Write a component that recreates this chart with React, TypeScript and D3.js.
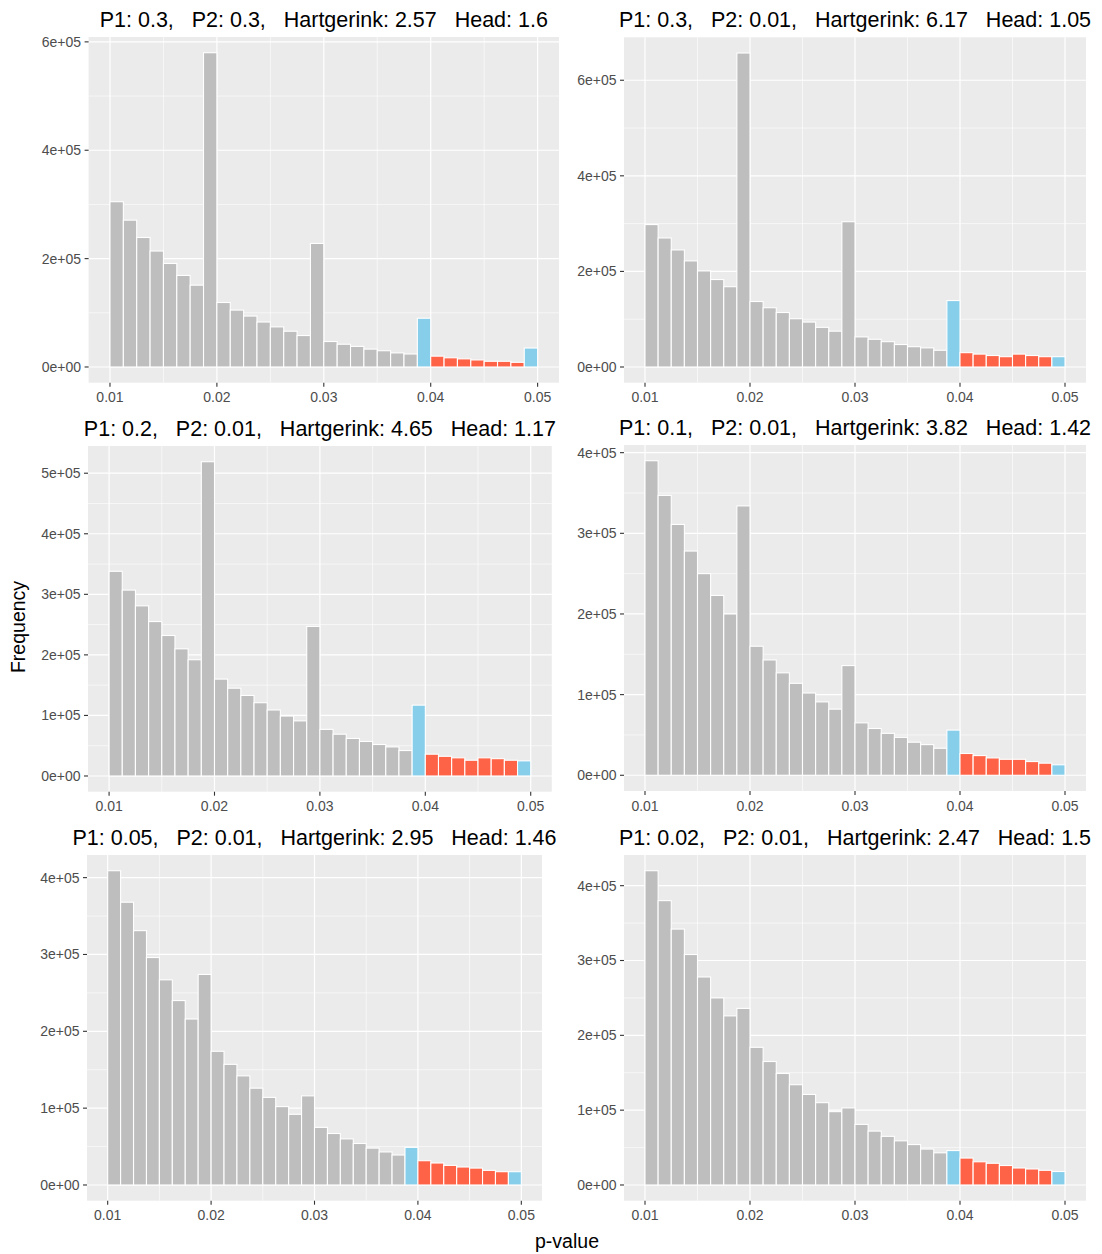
import React from 'react';
import * as d3 from 'd3';

// histogram bins: 32 bins of width 0.00125 from 0.01 to 0.05
const binStart = 0.01;
const binWidth = 0.00125;

const xTicks = [0.01, 0.02, 0.03, 0.04, 0.05];
const xMinor = [0.015, 0.025, 0.035, 0.045];

const titles = [
  'P1: 0.3,   P2: 0.3,   Hartgerink: 2.57   Head: 1.6',
  'P1: 0.3,   P2: 0.01,   Hartgerink: 6.17   Head: 1.05',
  'P1: 0.2,   P2: 0.01,   Hartgerink: 4.65   Head: 1.17',
  'P1: 0.1,   P2: 0.01,   Hartgerink: 3.82   Head: 1.42',
  'P1: 0.05,   P2: 0.01,   Hartgerink: 2.95   Head: 1.46',
  'P1: 0.02,   P2: 0.01,   Hartgerink: 2.47   Head: 1.5',
];

const counts1 = [
  305000, 271000, 239000, 214000, 191000, 169000, 151000, 580000,
  119000, 105000, 94000, 83000, 74000, 66000, 58000, 228000,
  47000, 42000, 38000, 33000, 30000, 26000, 24000, 90000,
  20000, 17000, 15000, 13000, 10500, 10500, 8600, 35000,
];
const counts2 = [
  298000, 270000, 245000, 222000, 201000, 183000, 168000, 657000,
  137000, 124000, 114000, 101000, 94000, 83000, 75000, 304000,
  63000, 58000, 53000, 47000, 42500, 40000, 35000, 139000,
  30000, 27000, 24000, 21600, 27000, 24000, 21600, 21600,
];
const counts3 = [
  338000, 307000, 281000, 255000, 232000, 210000, 192000, 519000,
  160000, 145000, 133000, 121000, 109000, 99000, 91000, 247000,
  77000, 69000, 62000, 57000, 52000, 48000, 42000, 117000,
  36000, 32500, 30000, 26000, 30000, 28600, 26000, 25000,
];
const counts4 = [
  390000, 347000, 311000, 278000, 250000, 223000, 200000, 334000,
  160000, 143000, 127000, 114000, 102000, 91000, 82000, 136000,
  65000, 58000, 52000, 47000, 41000, 38000, 33500, 56000,
  27000, 24400, 21500, 19800, 19800, 17000, 15000, 13000,
];
const counts5 = [
  409000, 368000, 331000, 296000, 267000, 240000, 216000, 274000,
  174000, 157000, 142000, 126000, 114000, 102000, 92000, 116000,
  75000, 67000, 60000, 54000, 48000, 43000, 39000, 49000,
  31600, 28600, 25500, 23400, 22000, 19000, 17300, 17300,
];
const counts6 = [
  420000, 380000, 342000, 308000, 278000, 250000, 226000, 236000,
  184000, 165000, 149000, 134000, 121000, 110000, 98000, 103000,
  81000, 72000, 65000, 59000, 54000, 48000, 43000, 46000,
  36000, 31000, 29000, 26000, 22700, 21400, 19600, 18000,
];

const yTicks1 = [0, 200000, 400000, 600000];
const yTicks2 = [0, 200000, 400000, 600000];
const yTicks3 = [0, 100000, 200000, 300000, 400000, 500000];
const yTicks4 = [0, 100000, 200000, 300000, 400000];
const yTicks5 = [0, 100000, 200000, 300000, 400000];
const yTicks6 = [0, 100000, 200000, 300000, 400000];

const allCounts = [counts1, counts2, counts3, counts4, counts5, counts6];
const allYTicks = [yTicks1, yTicks2, yTicks3, yTicks4, yTicks5, yTicks6];

// panel boxes in page pixels
const boxes = [
  { left: 88.6, right: 559, top: 37, bottom: 382.7 },
  { left: 624, right: 1086, top: 37.3, bottom: 382.7 },
  { left: 88, right: 551.8, top: 446, bottom: 791.7 },
  { left: 624, right: 1086, top: 445, bottom: 791 },
  { left: 87, right: 542, top: 855, bottom: 1200.7 },
  { left: 624, right: 1086, top: 855, bottom: 1200.7 },
];

const FONT = '"Liberation Sans", Arial, Helvetica, sans-serif';
const BG = '#EBEBEB';

const binFill = (i: number) => {
  if (i === 23 || i === 31) return '#87CEEB';
  if (i >= 24 && i <= 30) return '#FF6347';
  return '#BEBEBE';
};

const sci = (v: number) => {
  if (v === 0) return '0e+00';
  const e = Math.floor(Math.log10(v));
  const m = Math.round(v / Math.pow(10, e));
  return `${m}e+${String(e).padStart(2, '0')}`;
};

const Panel = ({ idx }: { idx: number }) => {
  const b = boxes[idx];
  const counts = allCounts[idx];
  const ticks = allYTicks[idx];
  const maxV = d3.max(counts) as number;

  const x = d3.scaleLinear().domain([0.008, 0.052]).range([b.left, b.right]);
  const y = d3.scaleLinear().domain([-0.05 * maxV, 1.05 * maxV]).range([b.bottom, b.top]);

  const step = ticks[1] - ticks[0];
  const yMinor = d3
    .range(ticks[0] - step / 2, ticks[ticks.length - 1] + step, step)
    .filter((v) => v > y.domain()[0] && v < y.domain()[1]);

  return (
    <g>
      <text
        x={(b.left + b.right) / 2}
        y={b.top - 10.5}
        textAnchor="middle"
        fontSize={21.5}
        fill="#000"
        style={{ whiteSpace: 'pre' }}
      >
        {titles[idx]}
      </text>
      <rect x={b.left} y={b.top} width={b.right - b.left} height={b.bottom - b.top} fill={BG} />
      {yMinor.map((v) => (
        <line key={'ym' + v} x1={b.left} x2={b.right} y1={y(v)} y2={y(v)} stroke="#fff" strokeWidth={0.6} />
      ))}
      {xMinor.map((v) => (
        <line key={'xm' + v} x1={x(v)} x2={x(v)} y1={b.top} y2={b.bottom} stroke="#fff" strokeWidth={0.6} />
      ))}
      {ticks.map((v) => (
        <line key={'yM' + v} x1={b.left} x2={b.right} y1={y(v)} y2={y(v)} stroke="#fff" strokeWidth={1.2} />
      ))}
      {xTicks.map((v) => (
        <line key={'xM' + v} x1={x(v)} x2={x(v)} y1={b.top} y2={b.bottom} stroke="#fff" strokeWidth={1.2} />
      ))}
      {counts.map((c, i) => {
        const x0 = binStart + i * binWidth;
        return (
          <rect
            key={i}
            x={x(x0)}
            y={y(c)}
            width={x(x0 + binWidth) - x(x0)}
            height={y(0) - y(c)}
            fill={binFill(i)}
            stroke="#fff"
            strokeWidth={1.1}
          />
        );
      })}
      {ticks.map((v) => (
        <g key={'yt' + v}>
          <line x1={b.left - 4} x2={b.left} y1={y(v)} y2={y(v)} stroke="#333" strokeWidth={1.1} />
          <text
            x={b.left - 7.5}
            y={y(v)}
            dy="0.35em"
            textAnchor="end"
            fontSize={14}
            fill="#4D4D4D"
          >
            {sci(v)}
          </text>
        </g>
      ))}
      {xTicks.map((v) => (
        <g key={'xt' + v}>
          <line x1={x(v)} x2={x(v)} y1={b.bottom} y2={b.bottom + 4} stroke="#333" strokeWidth={1.1} />
          <text x={x(v)} y={b.bottom + 19.5} textAnchor="middle" fontSize={14} fill="#4D4D4D">
            {String(v)}
          </text>
        </g>
      ))}
    </g>
  );
};

export default function App() {
  return (
    <svg
      width={1102}
      height={1254}
      style={{ position: 'absolute', left: 0, top: 0, background: '#fff' }}
      fontFamily={FONT}
    >
      <rect width={1102} height={1254} fill="#fff" />
      {boxes.map((_, i) => (
        <Panel key={i} idx={i} />
      ))}
      <text
        transform="translate(25,627) rotate(-90)"
        textAnchor="middle"
        fontSize={19.5}
        fill="#000"
      >
        Frequency
      </text>
      <text x={567} y={1248} textAnchor="middle" fontSize={19.5} fill="#000">
        p-value
      </text>
    </svg>
  );
}
